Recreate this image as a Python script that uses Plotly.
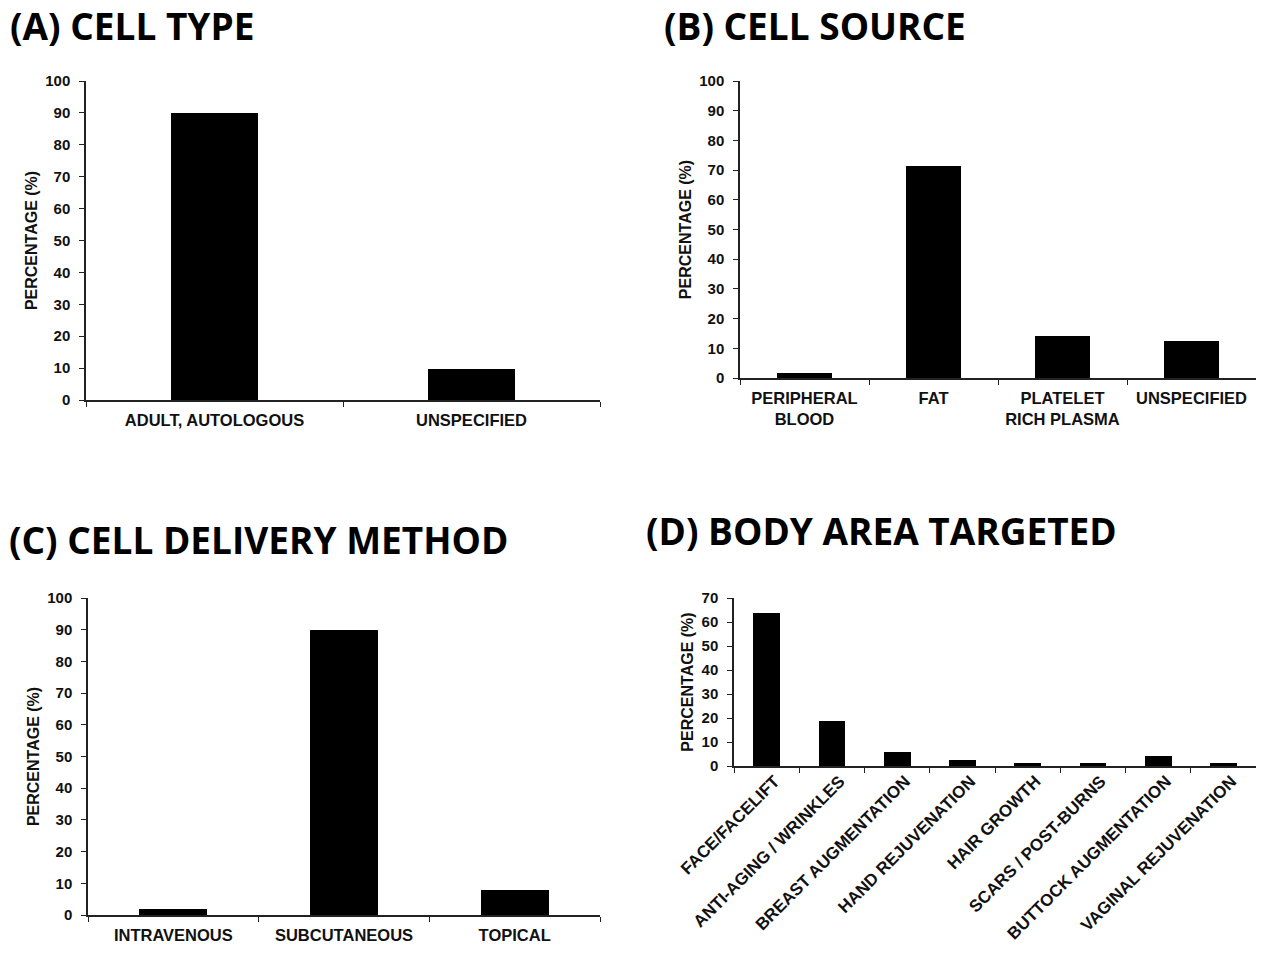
import plotly.graph_objects as go

# panel data
type_cats = ["ADULT, AUTOLOGOUS", "UNSPECIFIED"]
type_vals = [90.0, 9.8]

source_cats = ["PERIPHERAL<br>BLOOD", "FAT", "PLATELET<br>RICH PLASMA", "UNSPECIFIED"]
source_vals = [1.7, 71.3, 14.0, 12.3]

delivery_cats = ["INTRAVENOUS", "SUBCUTANEOUS", "TOPICAL"]
delivery_vals = [1.8, 90.0, 8.0]

area_cats = ["FACE/FACELIFT", "ANTI-AGING / WRINKLES", "BREAST AUGMENTATION",
             "HAND REJUVENATION", "HAIR GROWTH", "SCARS / POST-BURNS",
             "BUTTOCK AUGMENTATION", "VAGINAL REJUVENATION"]
area_vals = [63.7, 18.8, 5.7, 2.7, 1.3, 1.3, 4.2, 1.2]

# the page adds an 8px body margin, so the figure is kept 16px smaller
# and every reference position is shifted by OFF
OFF = 8
W, H = 1264 - 2 * OFF, 954 - 2 * OFF
SANS = "Liberation Sans, Arial, sans-serif"
TITLE_FONT = dict(family="Open Sans, sans-serif", size=37, color="black", weight="bold")


def px(x):
    return min(max((x - OFF) / W, 0), 1)


def py(y):
    return min(max(1 - (y - OFF) / H, 0), 1)


fig = go.Figure()

panels = [
    # cats, vals, x-domain px, y-domain px (bottom, top), y max, bar width, x tick size
    (type_cats, type_vals, (86, 600), (400, 81), 100, 0.34, 16.5),
    (source_cats, source_vals, (740, 1258), (378, 81), 100, 0.42, 16.5),
    (delivery_cats, delivery_vals, (88, 600), (915, 598), 100, 0.40, 16.5),
    (area_cats, area_vals, (734, 1258), (766, 598), 70, 0.41, 17),
]

for i, (cats, vals, xd, yd, ymax, bw, xfs) in enumerate(panels, start=1):
    sfx = "" if i == 1 else str(i)
    rotated = i == 4
    fig.add_trace(go.Bar(
        x=cats, y=vals, xaxis="x" + sfx, yaxis="y" + sfx,
        marker=dict(color="black", line=dict(width=0)),
        width=bw, showlegend=False,
    ))
    fig.layout["xaxis" + sfx] = dict(
        domain=[px(xd[0]), px(xd[1])], anchor="y" + sfx, automargin=False,
        showline=True, linecolor="#222", linewidth=1.5,
        ticks="outside", tickson="boundaries", ticklen=5, tickcolor="#222",
        showgrid=False, tickfont=dict(family=SANS, size=xfs, color="#111", weight="bold"),
        tickangle=-45 if rotated else 0,
        ticklabelshift=8 if rotated else 0,
        ticklabelstandoff=-3 if rotated else 4,
        fixedrange=True,
    )
    fig.layout["yaxis" + sfx] = dict(
        domain=[py(yd[0]), py(yd[1])], anchor="x" + sfx, automargin=False,
        range=[0, ymax], dtick=10, showline=True, linecolor="#222", linewidth=1.5,
        ticks="outside", ticklen=5, tickcolor="#222", showgrid=False, zeroline=False,
        ticklabelstandoff=6,
        tickfont=dict(family=SANS, size=15, color="#111", weight="bold"),
        title=dict(text="PERCENTAGE (%)",
                   font=dict(family=SANS, size=16, color="#111", weight="bold"),
                   standoff=4),
        fixedrange=True,
    )

titles = [
    ("(A) CELL TYPE", 9, 25.5),
    ("(B) CELL SOURCE", 663, 25.5),
    ("(C) CELL DELIVERY METHOD", 8, 539.5),
    ("(D) BODY AREA TARGETED", 645, 530.5),
]
for text, x, y in titles:
    fig.add_annotation(text=text, x=px(x), y=py(y), xref="paper", yref="paper",
                       xanchor="left", yanchor="middle", showarrow=False,
                       borderpad=0, font=TITLE_FONT)

fig.update_layout(
    width=W, height=H, margin=dict(l=0, r=0, t=0, b=0),
    paper_bgcolor="white", plot_bgcolor="white", bargap=0,
)

fig.write_html("out.html")
